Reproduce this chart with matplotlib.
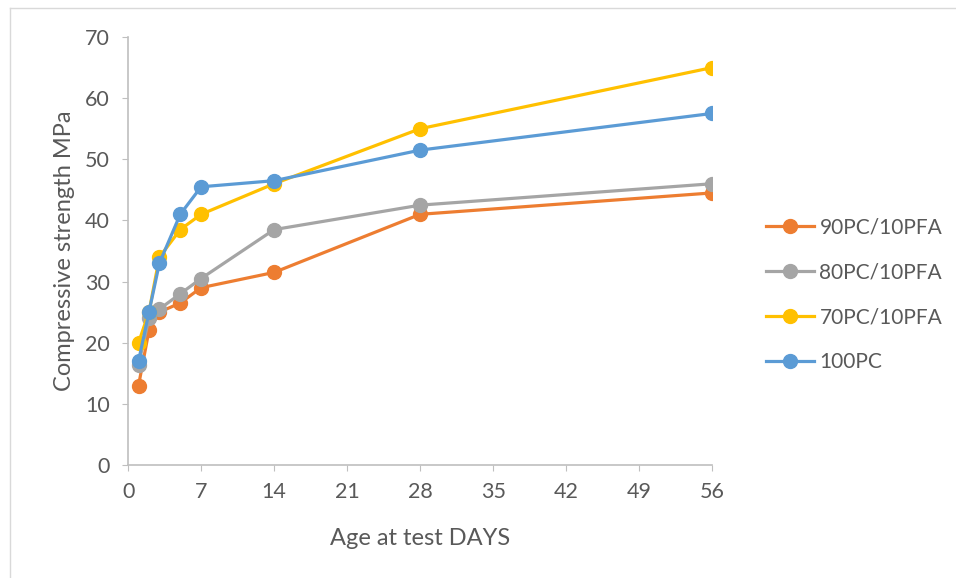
import matplotlib.pyplot as plt
from matplotlib.lines import Line2D

plt.rcParams['font.family'] = ['Lato', 'DejaVu Sans']

days = [1, 2, 3, 5, 7, 14, 28, 56]
pc90 = [13, 22, 25, 26.5, 29, 31.5, 41, 44.5]
pc80 = [16.4, 24, 25.5, 28, 30.5, 38.5, 42.5, 46]
pc70 = [20, 25, 34, 38.5, 41, 46, 55, 65]
pc100 = [17, 25, 33, 41, 45.5, 46.5, 51.5, 57.5]

names = ['90PC/10PFA', '80PC/10PFA', '70PC/10PFA', '100PC']
colors = ['#ED7D31', '#A5A5A5', '#FFC000', '#5B9BD5']
series = [pc90, pc80, pc70, pc100]

fig = plt.figure(figsize=(9.56, 5.78), dpi=100)
ax = fig.add_axes([0.134, 0.1955, 0.611, 0.7405])

for vals, c, n in zip(series, colors, names):
    ax.plot(days, vals, color=c, lw=2.3, marker='o', ms=10, label=n)

ax.set_xlim(0, 56)
ax.set_ylim(0, 70)
ax.set_xticks(range(0, 57, 7))
ax.set_yticks(range(0, 71, 10))
for s in ['top', 'right']:
    ax.spines[s].set_visible(False)
for s in ['left', 'bottom']:
    ax.spines[s].set_color('#BFBFBF')
    ax.spines[s].set_linewidth(1.2)
ax.tick_params(axis='both', colors='#BFBFBF', labelcolor='#595959', labelsize=15.5, length=4)
ax.tick_params(axis='x', pad=8)
ax.tick_params(axis='y', pad=9)
ax.set_xlabel('Age at test DAYS', fontsize=17, color='#595959', labelpad=19)
ax.set_ylabel('Compressive strength MPa', fontsize=17, color='#595959', labelpad=7)

ax.legend(loc='center left', bbox_to_anchor=(0.782, 0.49), bbox_transform=fig.transFigure,
          frameon=False, fontsize=15, labelcolor='#595959', handlelength=2.3,
          handletextpad=0.25, labelspacing=1.2)

# thin chart border (top and left edges only visible)
fig.add_artist(Line2D([0.0105, 1], [0.986, 0.986], transform=fig.transFigure, color='#D9D9D9', lw=1))
fig.add_artist(Line2D([0.0105, 0.0105], [0, 0.986], transform=fig.transFigure, color='#D9D9D9', lw=1))

fig.savefig('out.png', dpi=100)
